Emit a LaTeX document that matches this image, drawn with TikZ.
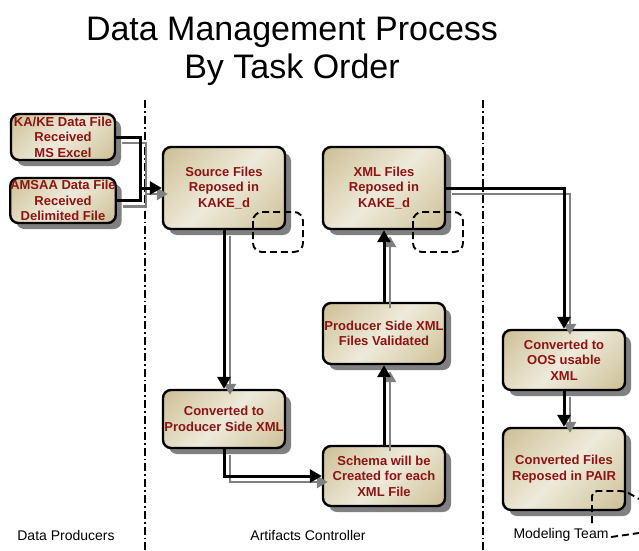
\documentclass[tikz,border=0pt]{standalone}
\usepackage{fontspec}
\setmainfont{Liberation Sans}
\usetikzlibrary{arrows.meta,shadows}
\definecolor{tanD}{RGB}{188,169,116}
\definecolor{tanM}{RGB}{218,208,176}
\definecolor{tanL}{RGB}{238,234,218}
\definecolor{boxred}{RGB}{140,20,20}
\definecolor{shgray}{RGB}{128,128,128}
\pgfdeclareverticalshading{boxshade}{100bp}{color(0bp)=(tanD); color(28bp)=(tanM); color(50bp)=(tanL); color(72bp)=(tanM); color(100bp)=(tanD)}
\begin{document}
\begin{tikzpicture}[x=1pt,y=-1pt,
  proc/.style={rectangle, rounded corners=8pt, draw=black, line width=2.4pt,
    shading=boxshade, shading angle=45,
    text=boxred, font=\bfseries\fontsize{13}{15.5}\selectfont, align=center,
    inner sep=0pt,
    drop shadow={fill=shgray, opacity=1, shadow xshift=6pt, shadow yshift=-6pt}},
  bconn/.style={draw=black, line width=3pt, -{Triangle[length=12pt,width=13pt]}},
  gconn/.style={draw=shgray, line width=2.7pt, -{Triangle[length=11pt,width=12pt]}},
  sh/.style={xshift=6pt, yshift=-6pt},
  lane/.style={draw=black, line width=1.8pt, dash pattern=on 8pt off 3pt on 1.8pt off 3pt},
  dashloop/.style={draw=black, line width=1.9pt, dash pattern=on 7pt off 4pt},
  lab/.style={font=\fontsize{14}{16}\selectfont, text=black, inner sep=0pt},
  ttl/.style={font=\fontsize{34}{38}\selectfont, text=black, inner sep=0pt, anchor=base}]
\useasboundingbox (0,0) rectangle (639,550);

% title
\node[ttl] (t1) at (292,40) {Data Management Process};
\node[ttl] (t2) at (292,78) {By Task Order};

% lanes
\coordinate (l1a) at (145,100); \coordinate (l1b) at (145,550);
\coordinate (l2a) at (483,100); \coordinate (l2b) at (483,550);
\draw[lane] (l1a) -- (l1b);
\draw[lane] (l2a) -- (l2b);

% boxes
\node[proc, minimum width=104pt, minimum height=46pt] (ka) at (63,137) {KA/KE Data File\\Received\\MS Excel};
\node[proc, minimum width=104pt, minimum height=45pt] (am) at (63,200.5) {AMSAA Data File\\Received\\Delimited File};
\node[proc, minimum width=122pt, minimum height=82pt] (src) at (224,188) {Source Files\\Reposed in\\KAKE\_d};
\node[proc, minimum width=122pt, minimum height=82pt] (xml) at (384,188) {XML Files\\Reposed in\\KAKE\_d};
\node[proc, minimum width=122pt, minimum height=61pt] (val) at (384,333.5) {Producer Side XML\\Files Validated};
\node[proc, minimum width=122pt, minimum height=58pt] (conv) at (224,419) {Converted to\\Producer Side XML};
\node[proc, minimum width=122pt, minimum height=60pt] (sch) at (384,476) {Schema will be\\Created for each\\XML File};
\node[proc, minimum width=122pt, minimum height=60pt] (oos) at (564,360) {Converted to\\OOS usable\\XML};
\node[proc, minimum width=122pt, minimum height=82pt] (pair) at (564,469) {Converted Files\\Reposed in PAIR};

% connectors: gray offset copies
\coordinate (j1) at (140,188);
\draw[gconn] ([sh]ka.east) -| ([sh]j1) -- ([sh]src.west);
\draw[gconn,-] ([sh]am.east) -| ([sh]j1);
\draw[gconn] ([sh]src.south) -- ([sh]conv.north);
\draw[gconn] ([sh]conv.south) |- ([sh]sch.west);
\draw[gconn] ([sh]sch.north) -- ([sh]val.south);
\draw[gconn] ([sh]val.north) -- ([sh]xml.south);
\draw[gconn] ([sh]xml.east) -| ([sh]oos.north);
\draw[gconn] ([sh]oos.south) -- ([sh]pair.north);
% black connectors
\draw[bconn] (ka.east) -| (j1) -- (src.west);
\draw[bconn,-] (am.east) -| (j1);
\draw[bconn] (src.south) -- (conv.north);
\draw[bconn] (conv.south) |- (sch.west);
\draw[bconn] (sch.north) -- (val.south);
\draw[bconn] (val.north) -- (xml.south);
\draw[bconn] (xml.east) -| (oos.north);
\draw[bconn] (oos.south) -- (pair.north);

% dashed loops
\draw[dashloop, rounded corners=9pt] (253,212) rectangle (303,252);
\draw[dashloop, rounded corners=9pt] (413,212) rectangle (463,252);
\coordinate (d1) at (592,523); \coordinate (d2) at (625,491); \coordinate (d3) at (639,499);
\draw[dashloop, rounded corners=5pt] (d1) |- (d2) -- (d3);
\coordinate (d4) at (611,537); \coordinate (d5) at (639,533);
\draw[dashloop] (d4) -- (d5);

% lane labels
\node[lab] (lp) at (66,535) {Data Producers};
\node[lab] (lc) at (308,535) {Artifacts Controller};
\node[lab] (lm) at (561,535) {Modeling Team};
\end{tikzpicture}
\end{document}
